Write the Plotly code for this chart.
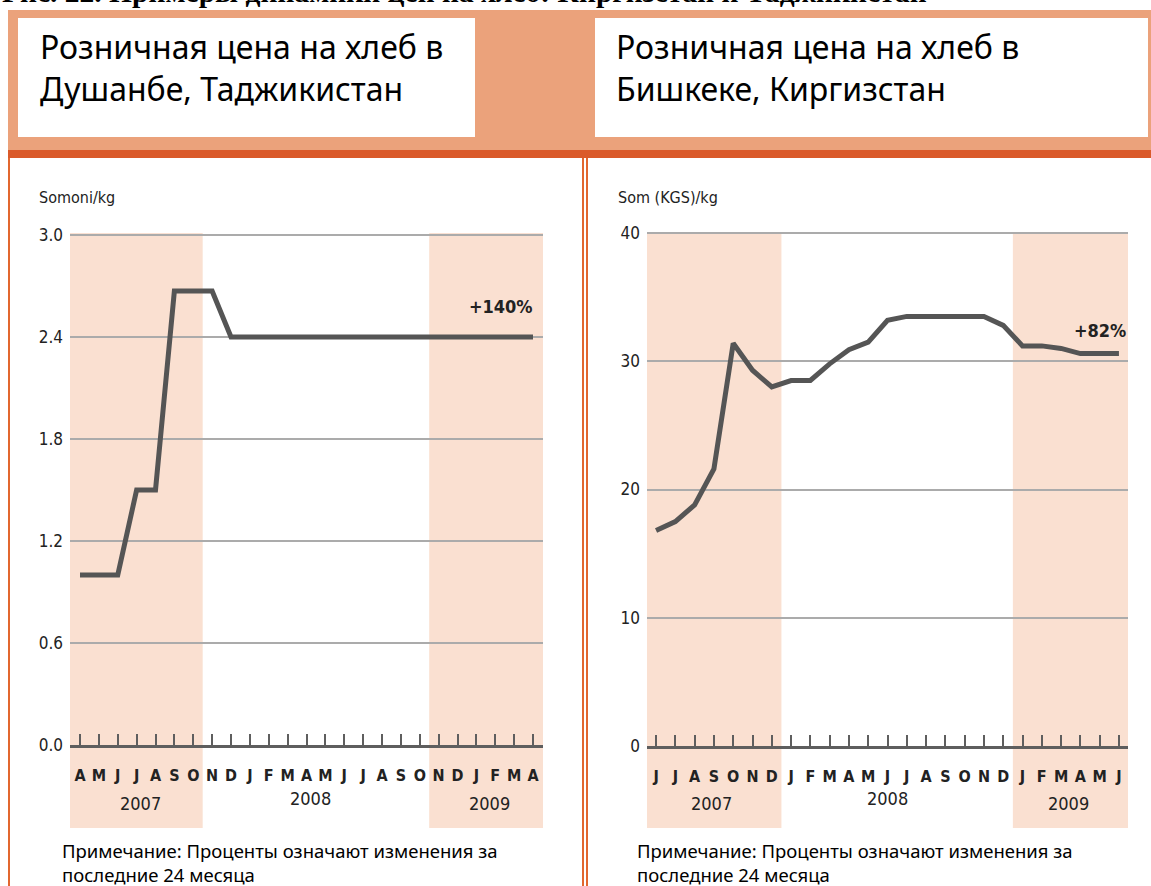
import plotly.graph_objects as go

# ---------------- data ----------------
left_months = ["A", "M", "J", "J", "A", "S", "O", "N", "D", "J", "F", "M", "A",
               "M", "J", "J", "A", "S", "O", "N", "D", "J", "F", "M", "A"]
left_values = [1.0, 1.0, 1.0, 1.5, 1.5, 2.67, 2.67, 2.67, 2.4, 2.4, 2.4, 2.4, 2.4,
               2.4, 2.4, 2.4, 2.4, 2.4, 2.4, 2.4, 2.4, 2.4, 2.4, 2.4, 2.4]
left_years = ["2007", "2008", "2009"]
left_year_pos = [3.2, 12.2, 21.7]
left_yticks = [0.0, 0.6, 1.2, 1.8, 2.4, 3.0]
left_yticktext = ["0.0", "0.6", "1.2", "1.8", "2.4", "3.0"]

right_months = ["J", "J", "A", "S", "O", "N", "D", "J", "F", "M", "A", "M", "J",
                "J", "A", "S", "O", "N", "D", "J", "F", "M", "A", "M", "J"]
right_values = [16.8, 17.5, 18.8, 21.6, 31.4, 29.3, 28.0, 28.5, 28.5, 29.8, 30.9, 31.5, 33.2,
                33.5, 33.5, 33.5, 33.5, 33.5, 32.8, 31.2, 31.2, 31.0, 30.6, 30.6, 30.6]
right_years = ["2007", "2008", "2009"]
right_year_pos = [2.9, 12.0, 21.4]
right_yticks = [0, 10, 20, 30, 40]
right_yticktext = ["0", "10", "20", "30", "40"]

main_title = "Рис. 22. Примеры динамики цен на хлеб: Киргизстан и Таджикистан"
left_title = "Розничная цена на хлеб в<br>Душанбе, Таджикистан"
right_title = "Розничная цена на хлеб в<br>Бишкеке, Киргизстан"
left_unit = "Somoni/kg"
right_unit = "Som (KGS)/kg"
left_change = "+140%"
right_change = "+82%"
note = "Примечание: Проценты означают изменения за<br>последние 24 месяца"

# ---------------- helpers (layout only) ----------------
W, H = 1151, 886
def px(x):
    return x / W
def py(y):
    return 1 - y / H

COND = "Liberation Sans Narrow, DejaVu Sans Condensed, Roboto Condensed, Roboto, sans-serif"
TXT = "Noto Sans, Open Sans, DejaVu Sans, sans-serif"
SALMON = "#EBA27B"
DARK_OR = "#DA5A2A"
BORDER = "#E2672F"
SHADE = "#FAE0D1"
LINE = "#555555"
GRID = "#ABABAB"

left_x = list(range(len(left_months)))
right_x = list(range(len(right_months)))

fig = go.Figure()
fig.add_trace(go.Scatter(x=left_x, y=left_values, mode="lines",
                         line=dict(color=LINE, width=5), xaxis="x", yaxis="y",
                         hoverinfo="skip", showlegend=False))
fig.add_trace(go.Scatter(x=right_x, y=right_values, mode="lines",
                         line=dict(color=LINE, width=5), xaxis="x2", yaxis="y2",
                         hoverinfo="skip", showlegend=False))

shapes = []
# page background pieces
shapes.append(dict(type="rect", xref="paper", yref="paper", x0=px(8), x1=px(1151),
                   y0=py(151), y1=py(10), fillcolor=SALMON, line=dict(width=0), layer="below"))
shapes.append(dict(type="rect", xref="paper", yref="paper", x0=px(18), x1=px(475),
                   y0=py(137), y1=py(18), fillcolor="white", line=dict(width=0), layer="below"))
shapes.append(dict(type="rect", xref="paper", yref="paper", x0=px(595), x1=px(1148),
                   y0=py(137), y1=py(18), fillcolor="white", line=dict(width=0), layer="below"))
shapes.append(dict(type="rect", xref="paper", yref="paper", x0=px(8), x1=px(1151),
                   y0=py(158), y1=py(150), fillcolor=DARK_OR, line=dict(width=0), layer="below"))
# panel borders
for xb in [9, 583, 587]:
    shapes.append(dict(type="line", xref="paper", yref="paper", x0=px(xb), x1=px(xb),
                       y0=py(886), y1=py(158), line=dict(color=BORDER, width=2), layer="below"))

# shaded periods
L_RANGE = [-0.53, 24.53]
R_RANGE = [-0.47, 24.47]
shade_y0, shade_y1 = py(828), py(233)
for (a, b) in [(L_RANGE[0], 6.5), (18.5, L_RANGE[1])]:
    shapes.append(dict(type="rect", xref="x", yref="paper", x0=a, x1=b, y0=shade_y0, y1=shade_y1,
                       fillcolor=SHADE, line=dict(width=0), layer="below"))
for (a, b) in [(R_RANGE[0], 6.5), (18.5, R_RANGE[1])]:
    shapes.append(dict(type="rect", xref="x2", yref="paper", x0=a, x1=b, y0=shade_y0, y1=shade_y1,
                       fillcolor=SHADE, line=dict(width=0), layer="below"))

annotations = []
annotations.append(dict(text="<b>" + main_title + "</b>", xref="paper", yref="paper",
                        x=px(0), y=py(-8), xanchor="left", yanchor="middle", showarrow=False,
                        font=dict(family="Liberation Serif, Times New Roman, serif", size=29.5, color="black")))
annotations.append(dict(text=left_title, xref="paper", yref="paper", x=px(38), y=py(68),
                        xanchor="left", yanchor="middle", showarrow=False, align="left",
                        font=dict(family=TXT, size=32, color="black")))
annotations.append(dict(text=right_title, xref="paper", yref="paper", x=px(614), y=py(68),
                        xanchor="left", yanchor="middle", showarrow=False, align="left",
                        font=dict(family=TXT, size=32, color="black")))
annotations.append(dict(text=left_unit, xref="paper", yref="paper", x=px(37), y=py(197),
                        xanchor="left", yanchor="middle", showarrow=False,
                        font=dict(family=COND, size=16, color="#222")))
annotations.append(dict(text=right_unit, xref="paper", yref="paper", x=px(616), y=py(197),
                        xanchor="left", yanchor="middle", showarrow=False,
                        font=dict(family=COND, size=16, color="#222")))
annotations.append(dict(text="<b>" + left_change + "</b>", xref="x", yref="y", x=24.1, y=2.58,
                        xanchor="right", yanchor="middle", showarrow=False,
                        font=dict(family=COND, size=18, color="#222")))
annotations.append(dict(text="<b>" + right_change + "</b>", xref="x2", yref="y2", x=24.45, y=32.4,
                        xanchor="right", yanchor="middle", showarrow=False,
                        font=dict(family=COND, size=18, color="#222")))
for i, (yr, pos) in enumerate(zip(left_years, left_year_pos)):
    annotations.append(dict(text=yr, xref="x", yref="paper", x=pos, y=py(798 if i == 1 else 803),
                            xanchor="center", yanchor="middle", showarrow=False,
                            font=dict(family=COND, size=18, color="#222")))
for i, (yr, pos) in enumerate(zip(right_years, right_year_pos)):
    annotations.append(dict(text=yr, xref="x2", yref="paper", x=pos, y=py(798 if i == 1 else 803),
                            xanchor="center", yanchor="middle", showarrow=False,
                            font=dict(family=COND, size=18, color="#222")))
annotations.append(dict(text=note, xref="paper", yref="paper", x=px(60), y=py(862),
                        xanchor="left", yanchor="middle", showarrow=False, align="left",
                        font=dict(family=TXT, size=18.5, color="black")))
annotations.append(dict(text=note, xref="paper", yref="paper", x=px(635), y=py(862),
                        xanchor="left", yanchor="middle", showarrow=False, align="left",
                        font=dict(family=TXT, size=18.5, color="black")))

xcommon = dict(showgrid=False, zeroline=False, showline=True, linecolor="#5E5E5E", linewidth=3,
               ticks="inside", ticklen=11, tickwidth=1.5, tickcolor="#5E5E5E",
               tickfont=dict(family=COND, size=16, color="#222", weight="bold"),
               ticklabelstandoff=14, fixedrange=True, automargin=False)
ycommon = dict(showgrid=True, gridcolor=GRID, gridwidth=2, zeroline=False, showline=False,
               ticks="", tickfont=dict(family=COND, size=17, color="#222"),
               ticklabelstandoff=6, fixedrange=True, automargin=False)

fig.update_layout(
    width=W, height=H, margin=dict(l=0, r=0, t=0, b=0, autoexpand=False),
    paper_bgcolor="white", plot_bgcolor="rgba(0,0,0,0)",
    showlegend=False, shapes=shapes, annotations=annotations,
    xaxis=dict(domain=[px(70), px(543)], range=L_RANGE, tickmode="array",
               tickvals=left_x, ticktext=left_months, anchor="y", **xcommon),
    yaxis=dict(domain=[py(745), py(229.9)], range=[0, 3.03], tickmode="array",
               tickvals=left_yticks, ticktext=left_yticktext, anchor="x", **ycommon),
    xaxis2=dict(domain=[px(647), px(1128)], range=R_RANGE, tickmode="array",
                tickvals=right_x, ticktext=right_months, anchor="y2", **xcommon),
    yaxis2=dict(domain=[py(746), py(227.9)], range=[0, 40.4], tickmode="array",
                tickvals=right_yticks, ticktext=right_yticktext, anchor="x2", **ycommon),
)

fig.write_html("out.html", config={"displayModeBar": False},
               post_script="document.body.style.margin='0px';")
